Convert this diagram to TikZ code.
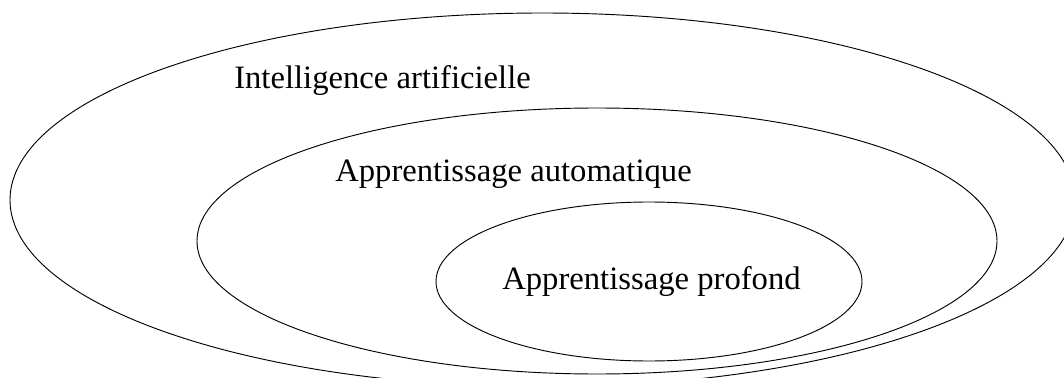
\documentclass[tikz,border=0pt]{standalone}
\usepackage{fontspec}
\setmainfont{Liberation Serif}
\usetikzlibrary{shapes.geometric}
\begin{document}
\begin{tikzpicture}[x=0.75pt,y=-0.75pt,
  set/.style={draw=black,line width=0.7pt,ellipse,inner sep=0pt},
  lbl/.style={anchor=base west,inner sep=0pt,font=\fontsize{24.5pt}{28pt}\selectfont}]
\useasboundingbox (0,0) rectangle (1064,378);
\clip (0,0) rectangle (1064,378);
\node[set,minimum width=798.75pt,minimum height=280.5pt] (ai) at (542.5,200) {};
\node[set,minimum width=600pt,minimum height=199.5pt] (ml) at (597,241) {};
\node[set,minimum width=319.5pt,minimum height=119.25pt] (dl) at (649,281.5) {};
\node[lbl] (tai) at (234,89) {Intelligence artificielle};
\node[lbl] (tml) at (335,181) {Apprentissage automatique};
\node[lbl] (tdl) at (502,289) {Apprentissage profond};
\end{tikzpicture}
\end{document}
